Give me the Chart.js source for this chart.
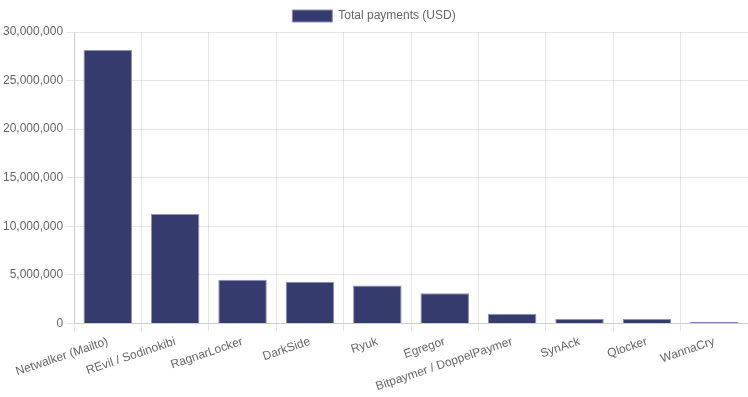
<!DOCTYPE html>
<html>
<head>
<meta charset="utf-8">
<script src="https://cdn.jsdelivr.net/npm/chart.js@4"></script>
<style>
  html, body { margin: 0; padding: 0; background: #fff; }
  #wrap { width: 748px; height: 397px; }
</style>
</head>
<body>
<div id="wrap"><canvas id="chart"></canvas></div>
<script>
var families = ["Netwalker (Mailto)", "REvil / Sodinokibi", "RagnarLocker", "DarkSide", "Ryuk",
    "Egregor", "Bitpaymer / DoppelPaymer", "SynAck", "Qlocker", "WannaCry"];
var payments = [28150000, 11250000, 4500000, 4300000, 3900000, 3100000, 1000000, 460000, 440000, 140000];

Chart.defaults.font.family = "'Liberation Sans', Arial, sans-serif";
Chart.defaults.font.size = 12;
Chart.defaults.color = "#666";

var ctx = document.getElementById('chart').getContext("2d");
var mychart = new Chart(ctx, {
    type: 'bar',
    data: {
        labels: families,
        datasets: [{
            label: "Total payments (USD)",
            data: payments,
            backgroundColor: "#363b6e",
            borderColor: "#8f92b8",
            borderWidth: 1
        }]
    },
    options: {
        responsive: true,
        maintainAspectRatio: false,
        animation: false,
        plugins: {
            legend: { labels: { boxWidth: 40 } },
            tooltip: { enabled: false }
        },
        scales: {
            y: {
                beginAtZero: true,
                max: 30000000,
                ticks: { stepSize: 5000000 }
            }
        }
    }
});
</script>
</body>
</html>
